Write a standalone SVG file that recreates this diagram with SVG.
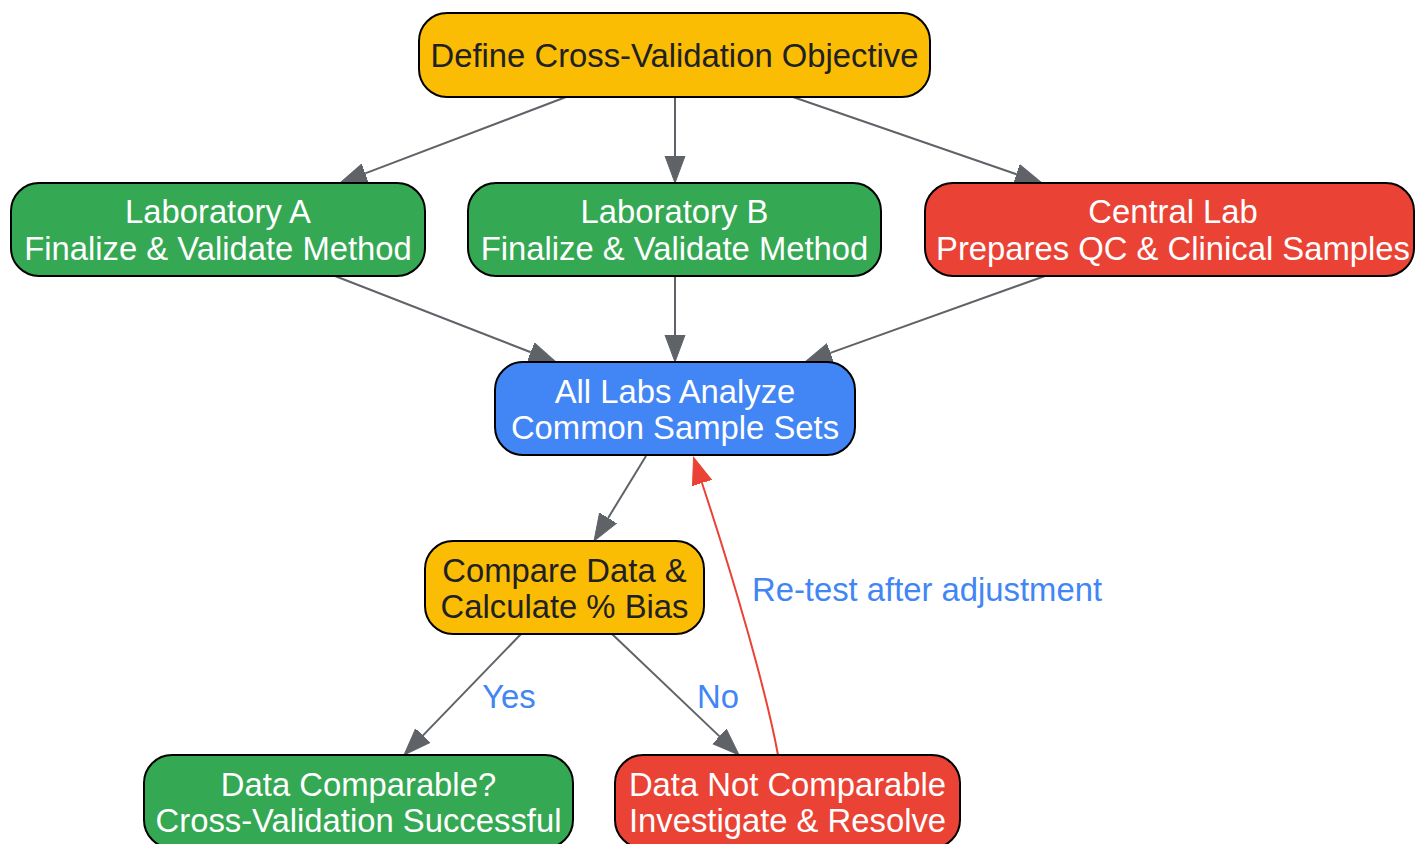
<svg xmlns="http://www.w3.org/2000/svg" width="1415" height="844" viewBox="0 0 1415 844">
<style>
.n{stroke:#000;stroke-width:2}
.y{fill:#FBBC04}.g{fill:#34A853}.r{fill:#EA4335}.b{fill:#4285F4}
text{font-family:"Liberation Sans",Arial,sans-serif;font-size:32.8px;text-anchor:middle}
.w{fill:#fff}.k{fill:#202124}
.e{fill:none;stroke:#5F6368;stroke-width:2}
.er{fill:none;stroke:#EA4335;stroke-width:2}
.lb{fill:#4285F4}
</style>
<defs>
<marker id="ag" markerUnits="userSpaceOnUse" markerWidth="30" markerHeight="24" viewBox="0 -12 30 24" refX="0" refY="0" orient="auto"><path d="M0,-10 L27,0 L0,10 Z" fill="#5F6368" stroke="#5F6368" stroke-width="1"/></marker>
<marker id="ar" markerUnits="userSpaceOnUse" markerWidth="30" markerHeight="24" viewBox="0 -12 30 24" refX="0" refY="0" orient="auto"><path d="M0,-10 L27,0 L0,10 Z" fill="#EA4335" stroke="#EA4335" stroke-width="1"/></marker>
</defs>
<g id="edges">
<path class="e" d="M566,97 L365.2,173.4" marker-end="url(#ag)"/>
<path class="e" d="M675,97 L675,156" marker-end="url(#ag)"/>
<path class="e" d="M793,97 L1016.5,174.2" marker-end="url(#ag)"/>
<path class="e" d="M335,276 L530.8,352.2" marker-end="url(#ag)"/>
<path class="e" d="M675,276 L675,335" marker-end="url(#ag)"/>
<path class="e" d="M1045,276 L830.4,352.9" marker-end="url(#ag)"/>
<path class="e" d="M646,456 L608.1,518" marker-end="url(#ag)"/>
<path class="e" d="M521,634 L422.8,735.6" marker-end="url(#ag)"/>
<path class="e" d="M612,634 L719.5,736.4" marker-end="url(#ag)"/>
<path class="er" d="M778,755 C766,690 734,580 702,483" marker-end="url(#ar)"/>
<text class="lb" x="509" y="708">Yes</text>
<text class="lb" x="718" y="708">No</text>
<text class="lb" x="927" y="601">Re-test after adjustment</text>
</g>
<g id="define">
<rect class="n y" x="419" y="13" width="511" height="84" rx="28"/>
<text class="k" x="674.5" y="67">Define Cross-Validation Objective</text>
</g>
<g id="labA">
<rect class="n g" x="11" y="183" width="414" height="93" rx="28"/>
<text class="w" x="218" y="223">Laboratory A</text>
<text class="w" x="218" y="260">Finalize &amp; Validate Method</text>
</g>
<g id="labB">
<rect class="n g" x="468" y="183" width="413" height="93" rx="28"/>
<text class="w" x="674.5" y="223">Laboratory B</text>
<text class="w" x="674.5" y="260">Finalize &amp; Validate Method</text>
</g>
<g id="central">
<rect class="n r" x="925" y="183" width="489" height="93" rx="28"/>
<text class="w" x="1173" y="223">Central Lab</text>
<text class="w" x="1173" y="260">Prepares QC &amp; Clinical Samples</text>
</g>
<g id="analyze">
<rect class="n b" x="495" y="362" width="360" height="93" rx="28"/>
<text class="w" x="675" y="403">All Labs Analyze</text>
<text class="w" x="675" y="439">Common Sample Sets</text>
</g>
<g id="compare">
<rect class="n y" x="425" y="541" width="279" height="93" rx="28"/>
<text class="k" x="564.5" y="582">Compare Data &amp;</text>
<text class="k" x="564.5" y="618">Calculate % Bias</text>
</g>
<g id="success">
<rect class="n g" x="144" y="755" width="429" height="93" rx="28"/>
<text class="w" x="358.5" y="796">Data Comparable?</text>
<text class="w" x="358.5" y="832">Cross-Validation Successful</text>
</g>
<g id="resolve">
<rect class="n r" x="615" y="755" width="345" height="93" rx="28"/>
<text class="w" x="787.5" y="796">Data Not Comparable</text>
<text class="w" x="787.5" y="832">Investigate &amp; Resolve</text>
</g>
</svg>
